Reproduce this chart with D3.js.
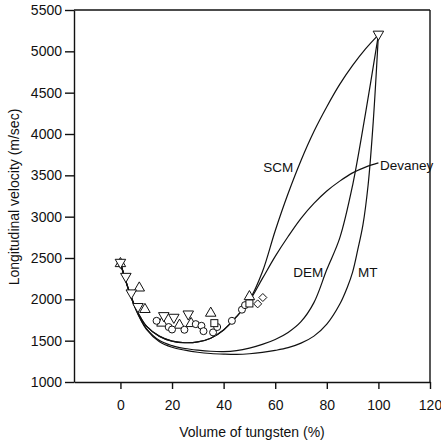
<!DOCTYPE html>
<html>
<head>
<meta charset="utf-8">
<script src="https://cdn.jsdelivr.net/npm/d3@7"></script>
<style>
body{margin:0;background:#fff}
text{font-family:"Liberation Sans",Arial,Helvetica,sans-serif;fill:#111}
</style>
</head>
<body>
<script>
// model curves [vol %, velocity m/s]
var scm = [[0,2440],[2,2230],[4,2040],[6,1890],[8,1770],[10,1680],[15,1555],[20,1495],[25,1475],[30,1485],[35,1530],[40,1630],[45,1790],[50,1990],[55,2330],[60,2830],[65,3280],[70,3680],[75,4030],[80,4330],[85,4600],[90,4830],[95,5030],[100,5200]]
var devaney = [[0,2440],[2,2230],[4,2040],[6,1890],[8,1770],[10,1680],[15,1555],[20,1495],[25,1475],[30,1485],[35,1530],[40,1630],[45,1790],[50,1980],[55,2250],[60,2520],[65,2760],[70,2980],[75,3160],[80,3310],[85,3430],[90,3530],[95,3600],[100,3650]]
var dem = [[0,2440],[2,2230],[4,2040],[6,1880],[8,1750],[10,1650],[15,1505],[20,1440],[25,1405],[30,1385],[35,1372],[40,1368],[45,1380],[50,1410],[55,1455],[60,1515],[65,1600],[70,1730],[75,1960],[80,2360],[85,2740],[90,3380],[95,4250],[100,5200]]
var mt = [[0,2440],[2,2230],[4,2040],[6,1875],[8,1745],[10,1640],[15,1490],[20,1420],[25,1385],[30,1360],[35,1345],[40,1338],[45,1335],[50,1342],[55,1358],[60,1382],[65,1415],[70,1470],[75,1555],[80,1700],[85,1940],[88,2150],[90,2330],[92,2600],[94,2900],[96,3380],[98,4150],[100,5200]]

// measured points
var downTri = [[0,2440],[2.1,2270],[4.2,2070],[6.8,1905],[16.8,1795],[20.7,1775],[26.3,1815],[100,5200]]
var upTri = [[0,2440],[7.3,2145],[9.5,1885],[16.1,1720],[22.9,1695],[27.4,1715],[35,1840],[50,2040]]
var circles = [[14,1740],[18.7,1665],[20,1635],[24.8,1632],[29.2,1700],[31.4,1680],[32.2,1615],[35.9,1600],[37.5,1665],[43.2,1740],[47.1,1875],[48.3,1930]]
var squares = [[36.4,1712],[50,1950]]
var diamonds = [[53.2,1945],[55.2,2022]]

var xTicks = [0,20,40,60,80,100,120]
var yTicks = [1000,1500,2000,2500,3000,3500,4000,4500,5000,5500]
var labels = ["SCM","Devaney","DEM","MT"]
var labelPos = [[55.4,3540],[100.6,3565],[67,2270],[92.1,2270]]

var W = 441, H = 442
var svg = d3.select("body").append("svg").attr("width",W).attr("height",H)

var x = d3.scaleLinear().domain([-18,120]).range([74,430])
var y = d3.scaleLinear().domain([1000,5500]).range([382,10])

var xAxis = svg.append("g").attr("transform","translate(0,382)")
	.call(d3.axisBottom(x).tickValues(xTicks).tickFormat(d3.format("d")).tickSizeInner(7).tickSizeOuter(0).tickPadding(11))
var yAxis = svg.append("g").attr("transform","translate(74,0)")
	.call(d3.axisLeft(y).tickValues(yTicks).tickFormat(d3.format("d")).tickSizeInner(9).tickSizeOuter(0).tickPadding(3))
svg.selectAll(".tick text").style("font-size","14px").style("font-family","Liberation Sans, Arial, sans-serif")
svg.selectAll(".domain, .tick line").attr("stroke","#111").attr("stroke-width",1.4)

// frame top + right
svg.append("line").attr("x1",74).attr("x2",430).attr("y1",10).attr("y2",10)
	.attr("stroke","#111").attr("stroke-width",1.4)
svg.append("line").attr("x1",430).attr("x2",430).attr("y1",10).attr("y2",382)
	.attr("stroke","#111").attr("stroke-width",1.4)

var line = d3.line().x(function(d){return x(d[0])}).y(function(d){return y(d[1])})
	.curve(d3.curveCatmullRom.alpha(0.5))

var krzywe = [scm, devaney, dem, mt]
svg.append("g").selectAll("path").data(krzywe).enter().append("path")
	.attr("d",line)
	.attr("fill","none")
	.attr("stroke","#111")
	.attr("stroke-width",1.2)

function triangle(s, down) {
	var h = s*0.87
	var k = down ? -1 : 1
	return "M0," + (-k*h*0.6) + "L" + (s/2) + "," + (k*h*0.4) + "L" + (-s/2) + "," + (k*h*0.4) + "Z"
}

var markers = svg.append("g").attr("fill","#fff").attr("stroke","#111").attr("stroke-width",1)

markers.selectAll(".up").data(upTri).enter().append("path")
	.attr("class","up")
	.attr("transform",function(d){return "translate(" + x(d[0]) + "," + y(d[1]) + ")"})
	.attr("d",triangle(10.5,false))
markers.selectAll(".dn").data(downTri).enter().append("path")
	.attr("class","dn")
	.attr("transform",function(d){return "translate(" + x(d[0]) + "," + y(d[1]) + ")"})
	.attr("d",triangle(10.5,true))
markers.selectAll("circle").data(circles).enter().append("circle")
	.attr("cx",function(d){return x(d[0])})
	.attr("cy",function(d){return y(d[1])})
	.attr("r",3.5)
markers.selectAll(".sq").data(squares).enter().append("rect")
	.attr("class","sq")
	.attr("x",function(d){return x(d[0])-3.5})
	.attr("y",function(d){return y(d[1])-3.5})
	.attr("width",7).attr("height",7)
markers.selectAll(".dm").data(diamonds).enter().append("path")
	.attr("class","dm")
	.attr("transform",function(d){return "translate(" + x(d[0]) + "," + y(d[1]) + ")"})
	.attr("d","M0,-4L4,0L0,4L-4,0Z")

svg.append("g").selectAll("text.lab").data(labels).enter().append("text")
	.attr("class","lab")
	.attr("x",function(d,i){return x(labelPos[i][0])})
	.attr("y",function(d,i){return y(labelPos[i][1])})
	.style("font-size","13.5px")
	.text(function(d){return d})

svg.append("text").attr("x",252).attr("y",437).attr("text-anchor","middle")
	.style("font-size","14px").text("Volume of tungsten (%)")
svg.append("text").attr("transform","translate(19,197) rotate(-90)").attr("text-anchor","middle")
	.style("font-size","14px").text("Longitudinal velocity (m/sec)")
</script>
</body>
</html>
